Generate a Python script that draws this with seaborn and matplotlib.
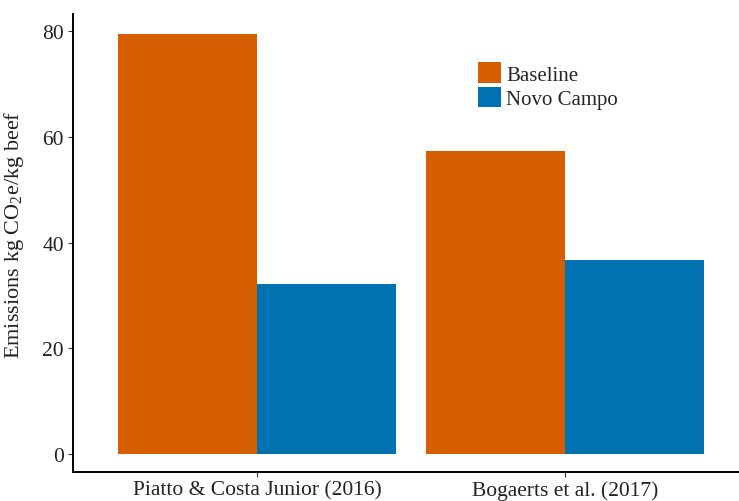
import numpy as np
import pandas as pd
import matplotlib
matplotlib.use("Agg")
import matplotlib.pyplot as plt
import seaborn as sns

# Data
studies = ["Piatto & Costa Junior (2016)", "Bogaerts et al. (2017)"]
scenarios = ["Baseline", "Novo Campo"]
baseline = [79.4, 57.3]
novo_campo = [32.1, 36.7]
colors = ["#D55E00", "#0072B2"]

df = pd.DataFrame({
    "study": studies * 2,
    "scenario": [scenarios[0]] * 2 + [scenarios[1]] * 2,
    "emissions": baseline + novo_campo,
})

sns.set_style("white")
plt.rcParams["font.family"] = ["Liberation Serif", "DejaVu Serif"]
plt.rcParams["mathtext.fontset"] = "custom"
plt.rcParams["mathtext.rm"] = "Liberation Serif"
plt.rcParams["mathtext.it"] = "Liberation Serif:italic"

fig = plt.figure(figsize=(7.39, 5.02), dpi=100)
ax = fig.add_axes([0.0988, 0.0578, 0.9012, 0.912])

sns.barplot(data=df, x="study", y="emissions", hue="scenario", order=studies,
            hue_order=scenarios, palette=colors, width=0.9, saturation=1,
            edgecolor="none", linewidth=0, ax=ax)

ax.set_xlim(-0.597, 1.565)
ax.set_ylim(-3.4, 83.2)
ax.set_yticks([0, 20, 40, 60, 80])
ax.set_xlabel("")
ax.set_ylabel("Emissions kg CO$_2$e/kg beef", fontsize=16, color="#222222")
ax.yaxis.set_label_coords(-0.07, 0.52)

for s in ["top", "right"]:
    ax.spines[s].set_visible(False)
for s in ["left", "bottom"]:
    ax.spines[s].set_color("black")
    ax.spines[s].set_linewidth(1.4)

ax.tick_params(axis="both", which="both", bottom=True, left=True, direction="out",
               length=3.5, width=0.8, colors="#333333", labelsize=15.5,
               labelcolor="#222222", pad=3)
ax.tick_params(axis="x", pad=2.5)

handles, labels = ax.get_legend_handles_labels()
ax.legend(handles, labels, loc="upper left", bbox_to_anchor=(0.596, 0.913),
          frameon=False, fontsize=15, handlelength=1.1, handleheight=1.15,
          handletextpad=0.25, labelspacing=0.1, borderaxespad=0)

fig.savefig("out.png", dpi=100)
